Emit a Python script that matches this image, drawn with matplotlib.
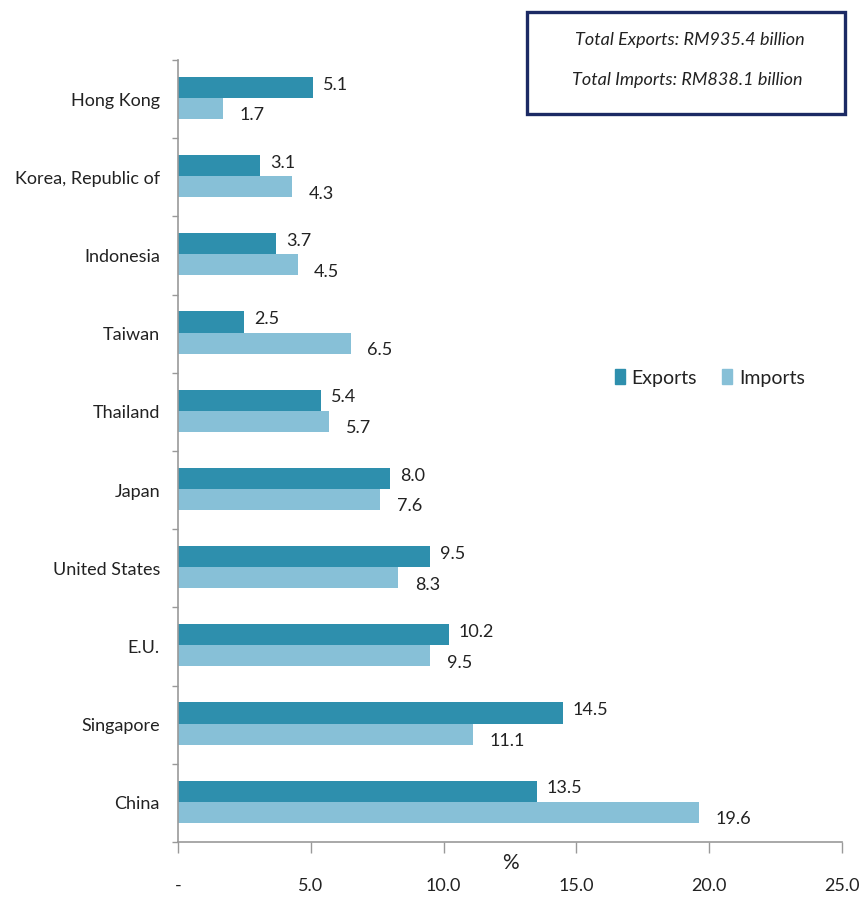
import matplotlib
matplotlib.use("Agg")
import matplotlib.pyplot as plt
from matplotlib.patches import Rectangle, Patch
import numpy as np

# Share of Malaysia's trade by partner (%)
countries = ["Hong Kong", "Korea, Republic of", "Indonesia", "Taiwan", "Thailand",
             "Japan", "United States", "E.U.", "Singapore", "China"]
exports = [5.1, 3.1, 3.7, 2.5, 5.4, 8.0, 9.5, 10.2, 14.5, 13.5]
imports = [1.7, 4.3, 4.5, 6.5, 5.7, 7.6, 8.3, 9.5, 11.1, 19.6]
xticks = [0, 5, 10, 15, 20, 25]
xtick_labels = ["-", "5.0", "10.0", "15.0", "20.0", "25.0"]
box_lines = ["Total Exports: RM935.4 billion", "Total Imports: RM838.1 billion"]

EXP_COLOR = "#2E8FAD"
IMP_COLOR = "#87C0D7"
TEXT = "#222222"

plt.rcParams["font.family"] = ["Lato", "DejaVu Sans"]

fig = plt.figure(figsize=(8.64, 8.98), dpi=100)
ax = fig.add_axes([178 / 864, 1 - 842 / 898, (842 - 178) / 864, (842 - 60) / 898])

n = len(countries)
pos = np.arange(n)
h = 0.27
ax.barh(pos - 0.15, exports, height=h, color=EXP_COLOR, label="Exports")
ax.barh(pos + 0.12, imports, height=h, color=IMP_COLOR, label="Imports")

for i, (e, m) in enumerate(zip(exports, imports)):
    ax.annotate(f"{e:.1f}", (e, i - 0.15), xytext=(7, 2), textcoords="offset points",
                ha="left", va="center", fontsize=13, color=TEXT)
    ax.annotate(f"{m:.1f}", (m, i + 0.12), xytext=(12, -5), textcoords="offset points",
                ha="left", va="center", fontsize=13, color=TEXT)

ax.set_ylim(n - 0.5, -0.5)
ax.set_xlim(0, 25)

ax.set_yticks(pos)
ax.set_yticklabels(countries, fontsize=13, color=TEXT)
ax.set_yticks(np.arange(-0.5, n, 1), minor=True)
ax.tick_params(axis="y", which="major", length=0, pad=13)
ax.tick_params(axis="y", which="minor", length=4, width=1, color="#999999", direction="out")

ax.set_xticks(xticks)
ax.set_xticklabels(xtick_labels, fontsize=13, color=TEXT)
ax.tick_params(axis="x", length=8, width=1, color="#999999", direction="out", pad=18)

ax.set_xlabel("%", fontsize=15, color=TEXT)
ax.xaxis.set_label_coords(0.5, -0.027)
ax.xaxis.label.set_va("center")

for s in ("top", "right"):
    ax.spines[s].set_visible(False)
for s in ("left", "bottom"):
    ax.spines[s].set_color("#999999")
    ax.spines[s].set_linewidth(1.2)

handles = [Patch(color=EXP_COLOR), Patch(color=IMP_COLOR)]
fig.legend(handles, ["Exports", "Imports"], ncol=2, frameon=False,
           loc="center", bbox_to_anchor=(710 / 864, 1 - 378 / 898),
           handlelength=0.5, handleheight=0.8, handletextpad=0.35,
           columnspacing=1.3, fontsize=14, labelcolor=TEXT)

# Totals box in the top-right corner
fig.patches.append(Rectangle((527 / 864, 1 - 114 / 898), (845 - 527) / 864, (114 - 12) / 898,
                             transform=fig.transFigure, fill=False,
                             edgecolor="#1C2A64", linewidth=2.4))
fig.text(805 / 864, 1 - 40 / 898, box_lines[0], ha="right", va="center",
         fontsize=13, style="italic", color=TEXT)
fig.text(803 / 864, 1 - 80 / 898, box_lines[1], ha="right", va="center",
         fontsize=13, style="italic", color=TEXT)

fig.savefig("out.png", dpi=100, facecolor="white")
